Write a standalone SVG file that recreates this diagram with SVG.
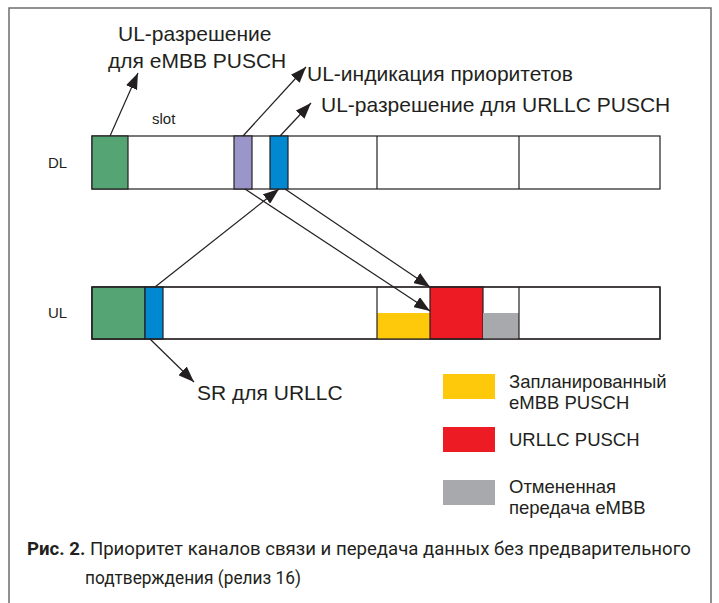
<svg xmlns="http://www.w3.org/2000/svg" width="719" height="603" viewBox="0 0 719 603">
<style>
.lbl{font-family:"Liberation Sans",Arial,sans-serif;font-size:21px;fill:#231f20}
.sm{font-family:"Liberation Sans",Arial,sans-serif;font-size:15px;fill:#231f20}
.lg{font-family:"Liberation Sans",Arial,sans-serif;font-size:18.5px;fill:#231f20}
.cap{font-family:Roboto,"Noto Sans",sans-serif;font-size:18.6px;fill:#231f20}
.bar{fill:#fff;stroke:#231f20;stroke-width:1.2}
.cell{stroke:#231f20;stroke-width:1.2}
.div{stroke:#231f20;stroke-width:1.2}
.arr{stroke:#231f20;stroke-width:1.2;fill:none;marker-end:url(#ah)}
</style>
<defs>
<marker id="ah" viewBox="0 0 16 12" refX="16" refY="6" markerWidth="16" markerHeight="12" markerUnits="userSpaceOnUse" orient="auto">
<path d="M0,0 L16,6 L0,12 Z" fill="#231f20"/>
</marker>
</defs>
<rect width="719" height="603" fill="#fff"/>
<path d="M9,603 V8 H711 V603" fill="none" stroke="#6d6e71" stroke-width="1.5"/>

<g id="dl">
<rect class="bar" x="92" y="136" width="568" height="53"/>
<rect class="cell" x="92" y="136" width="36" height="53" fill="#55a474"/>
<rect class="cell" x="234" y="136" width="18" height="53" fill="#9b96c9"/>
<rect class="cell" x="270" y="136" width="18" height="53" fill="#0088d1"/>
<line class="div" x1="377" y1="136" x2="377" y2="189"/>
<line class="div" x1="519" y1="136" x2="519" y2="189"/>
<text class="sm" x="48" y="168">DL</text>
<text class="sm" x="152" y="124">slot</text>
</g>

<g id="ul">
<rect class="bar" x="92" y="287" width="568" height="52"/>
<rect class="cell" x="92" y="287" width="53" height="52" fill="#55a474"/>
<rect class="cell" x="145" y="287" width="18" height="52" fill="#0088d1"/>
<rect x="377" y="313" width="53" height="26" fill="#ffc90b"/>
<rect class="cell" x="430" y="287" width="53" height="52" fill="#ed1c24"/>
<rect x="483" y="313" width="36" height="26" fill="#a7a9ac"/>
<line class="div" x1="377" y1="287" x2="377" y2="339"/>
<line class="div" x1="519" y1="287" x2="519" y2="339"/>
<rect x="92" y="287" width="568" height="52" fill="none" stroke="#231f20" stroke-width="1.2"/>
<text class="sm" x="48" y="318">UL</text>
</g>

<g id="labels">
<text class="lbl" x="118" y="41">UL-разрешение</text>
<text class="lbl" x="108" y="68">для eMBB PUSCH</text>
<text class="lbl" x="307" y="81">UL-индикация приоритетов</text>
<text class="lbl" x="321" y="112">UL-разрешение для URLLC PUSCH</text>
<text class="lbl" x="197" y="400">SR для URLLC</text>
</g>

<g id="connectors">
<line class="arr" x1="110" y1="136" x2="138" y2="73"/>
<line class="arr" x1="243" y1="136" x2="306" y2="67"/>
<line class="arr" x1="280" y1="136" x2="311" y2="103"/>
<line class="arr" x1="150" y1="339" x2="194" y2="382"/>
<line class="arr" x1="155" y1="287" x2="279" y2="189"/>
<line class="arr" x1="245" y1="189" x2="430" y2="311"/>
<line class="arr" x1="285" y1="189" x2="430" y2="287"/>
</g>

<g id="legend">
<rect x="443" y="374" width="52" height="25" fill="#ffc90b"/>
<rect x="443" y="427" width="52" height="25" fill="#ed1c24"/>
<rect x="443" y="480" width="52" height="25" fill="#a7a9ac"/>
<text class="lg" x="509" y="388">Запланированный</text>
<text class="lg" x="509" y="409">eMBB PUSCH</text>
<text class="lg" x="509" y="446">URLLC PUSCH</text>
<text class="lg" x="509" y="493">Отмененная</text>
<text class="lg" x="509" y="514">передача eMBB</text>
</g>

<g id="caption">
<text class="cap" x="27" y="555"><tspan font-weight="bold">Рис. 2.</tspan> Приоритет каналов связи и передача данных без предварительного</text>
<text class="cap" x="85" y="584" textLength="216" lengthAdjust="spacingAndGlyphs">подтверждения (релиз 16)</text>
</g>
</svg>
